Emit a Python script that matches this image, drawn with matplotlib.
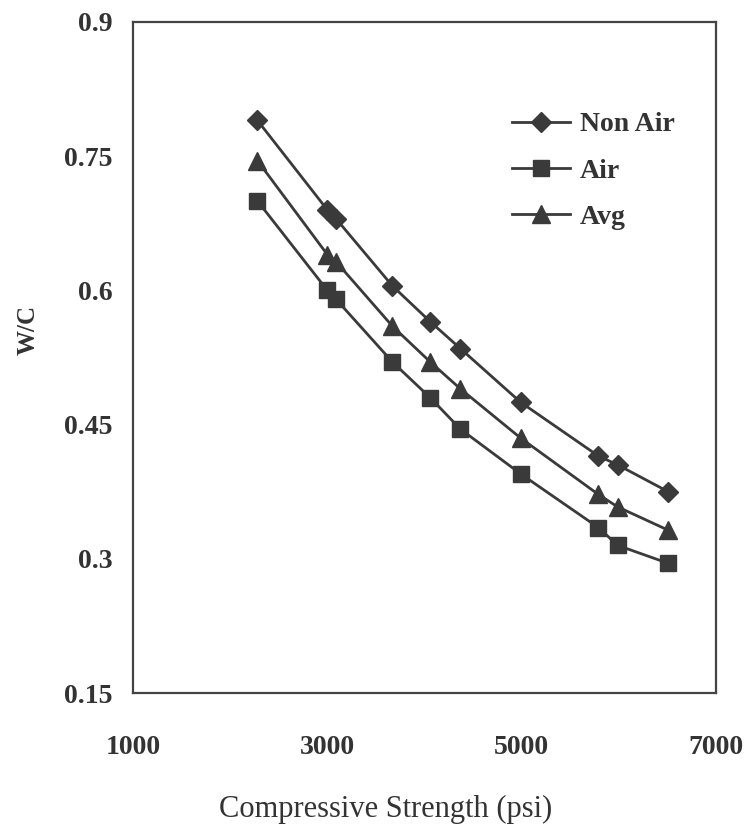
import matplotlib
matplotlib.use("Agg")
import matplotlib.pyplot as plt

# compressive strength (psi)
strength = [2280, 3000, 3090, 3670, 4060, 4370, 4990, 5790, 5990, 6510]
non_air = [0.79, 0.69, 0.68, 0.605, 0.565, 0.535, 0.475, 0.415, 0.405, 0.375]
air = [0.70, 0.60, 0.59, 0.52, 0.48, 0.445, 0.395, 0.335, 0.315, 0.295]
avg = [0.745, 0.64, 0.632, 0.56, 0.52, 0.49, 0.435, 0.372, 0.358, 0.332]

x_ticks = [1000, 3000, 5000, 7000]
y_ticks = [0.15, 0.3, 0.45, 0.6, 0.75, 0.9]
y_tick_labels = ["0.15", "0.3", "0.45", "0.6", "0.75", "0.9"]

ink = "#3a3a3a"
plt.rcParams["font.family"] = ["Liberation Serif", "DejaVu Serif"]

fig = plt.figure(figsize=(7.48, 8.3), dpi=100)
ax = fig.add_axes([0.178, 0.165, 0.779, 0.8085])

ax.plot(strength, non_air, color=ink, lw=2, marker="D", ms=10.5, label="Non Air")
ax.plot(strength, air, color=ink, lw=2, marker="s", ms=11.5, label="Air")
ax.plot(strength, avg, color=ink, lw=2, marker="^", ms=13.5, label="Avg")

ax.set_xlim(1000, 7000)
ax.set_ylim(0.15, 0.9)
ax.set_xticks(x_ticks)
ax.set_xticklabels([str(t) for t in x_ticks])
ax.set_yticks(y_ticks)
ax.set_yticklabels(y_tick_labels)
ax.tick_params(axis="both", length=0, colors="#333333", labelsize=20)
ax.tick_params(axis="x", pad=30)
ax.tick_params(axis="y", pad=15)
for lab in ax.get_xticklabels() + ax.get_yticklabels():
    lab.set_fontweight("bold")

for sp in ax.spines.values():
    sp.set_color("#444444")
    sp.set_linewidth(1.6)

ax.set_xlabel("Compressive Strength (psi)", fontsize=22, color="#333333")
ax.xaxis.set_label_coords(0.434, -0.152)
ax.set_ylabel("W/C", fontsize=18, fontweight="bold", color="#333333")
ax.yaxis.set_label_coords(-0.16, 0.541)

ax.legend(loc="upper left", bbox_to_anchor=(0.65, 0.866), frameon=False,
          prop={"size": 20, "weight": "bold"}, labelcolor="#333333",
          handlelength=2.1, handletextpad=0.35, labelspacing=0.75,
          borderpad=0, borderaxespad=0)

fig.savefig("out.png", dpi=100)
